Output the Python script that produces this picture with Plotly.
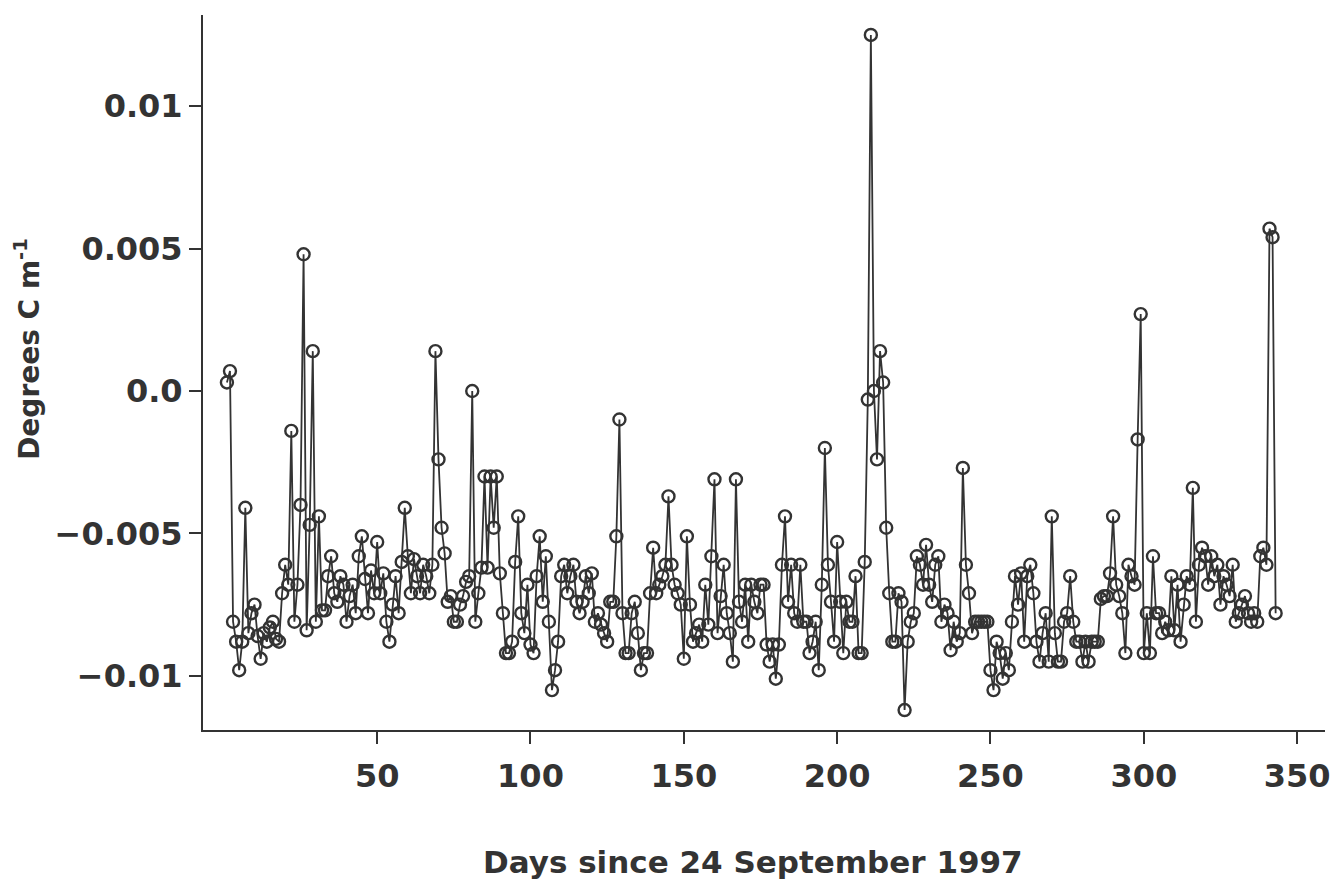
import plotly.graph_objects as go

# Daily temperature gradient series (degrees C per metre)
days = list(range(1, 344))
gradient = [
    0.0003, 0.0007, -0.0081, -0.0088, -0.0098, -0.0088, -0.0041, -0.0085, -0.0078, -0.0075,
    -0.0086, -0.0094, -0.0085, -0.0088, -0.0083, -0.0081, -0.0087, -0.0088, -0.0071, -0.0061,
    -0.0068, -0.0014, -0.0081, -0.0068, -0.0040, 0.0048, -0.0084, -0.0047, 0.0014, -0.0081,
    -0.0044, -0.0077, -0.0077, -0.0065, -0.0058, -0.0071, -0.0074, -0.0065, -0.0068, -0.0081,
    -0.0072, -0.0068, -0.0078, -0.0058, -0.0051, -0.0066, -0.0078, -0.0063, -0.0071, -0.0053,
    -0.0071, -0.0064, -0.0081, -0.0088, -0.0075, -0.0065, -0.0078, -0.0060, -0.0041, -0.0058,
    -0.0071, -0.0059, -0.0065, -0.0071, -0.0061, -0.0065, -0.0071, -0.0061, 0.0014, -0.0024,
    -0.0048, -0.0057, -0.0074, -0.0072, -0.0081, -0.0081, -0.0075, -0.0072, -0.0067, -0.0065,
    0.0000, -0.0081, -0.0071, -0.0062, -0.0030, -0.0062, -0.0030, -0.0048, -0.0030, -0.0064,
    -0.0078, -0.0092, -0.0092, -0.0088, -0.0060, -0.0044, -0.0078, -0.0085, -0.0068, -0.0089,
    -0.0092, -0.0065, -0.0051, -0.0074, -0.0058, -0.0081, -0.0105, -0.0098, -0.0088, -0.0065,
    -0.0061, -0.0071, -0.0065, -0.0061, -0.0074, -0.0078, -0.0074, -0.0065, -0.0071, -0.0064,
    -0.0081, -0.0078, -0.0082, -0.0085, -0.0088, -0.0074, -0.0074, -0.0051, -0.0010, -0.0078,
    -0.0092, -0.0092, -0.0078, -0.0074, -0.0085, -0.0098, -0.0092, -0.0092, -0.0071, -0.0055,
    -0.0071, -0.0068, -0.0065, -0.0061, -0.0037, -0.0061, -0.0068, -0.0071, -0.0075, -0.0094,
    -0.0051, -0.0075, -0.0088, -0.0085, -0.0082, -0.0088, -0.0068, -0.0082, -0.0058, -0.0031,
    -0.0085, -0.0072, -0.0061, -0.0078, -0.0085, -0.0095, -0.0031, -0.0074, -0.0081, -0.0068,
    -0.0088, -0.0068, -0.0074, -0.0078, -0.0068, -0.0068, -0.0089, -0.0095, -0.0089, -0.0101,
    -0.0089, -0.0061, -0.0044, -0.0074, -0.0061, -0.0078, -0.0081, -0.0061, -0.0081, -0.0081,
    -0.0092, -0.0088, -0.0081, -0.0098, -0.0068, -0.0020, -0.0061, -0.0074, -0.0088, -0.0053,
    -0.0074, -0.0092, -0.0074, -0.0081, -0.0081, -0.0065, -0.0092, -0.0092, -0.0060, -0.0003,
    0.0125, 0.0000, -0.0024, 0.0014, 0.0003, -0.0048, -0.0071, -0.0088, -0.0088, -0.0071,
    -0.0074, -0.0112, -0.0088, -0.0081, -0.0078, -0.0058, -0.0061, -0.0068, -0.0054, -0.0068,
    -0.0074, -0.0061, -0.0058, -0.0081, -0.0075, -0.0078, -0.0091, -0.0081, -0.0088, -0.0085,
    -0.0027, -0.0061, -0.0071, -0.0085, -0.0081, -0.0081, -0.0081, -0.0081, -0.0081, -0.0098,
    -0.0105, -0.0088, -0.0092, -0.0101, -0.0092, -0.0098, -0.0081, -0.0065, -0.0075, -0.0064,
    -0.0088, -0.0065, -0.0061, -0.0071, -0.0088, -0.0095, -0.0085, -0.0078, -0.0095, -0.0044,
    -0.0085, -0.0095, -0.0095, -0.0081, -0.0078, -0.0065, -0.0081, -0.0088, -0.0088, -0.0095,
    -0.0088, -0.0095, -0.0088, -0.0088, -0.0088, -0.0073, -0.0072, -0.0072, -0.0064, -0.0044,
    -0.0068, -0.0072, -0.0078, -0.0092, -0.0061, -0.0065, -0.0068, -0.0017, 0.0027, -0.0092,
    -0.0078, -0.0092, -0.0058, -0.0078, -0.0078, -0.0085, -0.0081, -0.0084, -0.0065, -0.0084,
    -0.0068, -0.0088, -0.0075, -0.0065, -0.0068, -0.0034, -0.0081, -0.0061, -0.0055, -0.0058,
    -0.0068, -0.0058, -0.0065, -0.0061, -0.0075, -0.0065, -0.0068, -0.0072, -0.0061, -0.0081,
    -0.0078, -0.0075, -0.0072, -0.0078, -0.0081, -0.0078, -0.0081, -0.0058, -0.0055, -0.0061,
    0.0057, 0.0054, -0.0078,
]

x_ticks = [50, 100, 150, 200, 250, 300, 350]
y_ticks = [0.01, 0.005, 0.0, -0.005, -0.01]
y_tick_text = ["0.01", "0.005", "0.0", "\u22120.005", "\u22120.01"]

ink = "#333333"
font_family = "DejaVu Sans, sans-serif"

fig = go.Figure()
fig.add_trace(go.Scatter(
    x=days,
    y=gradient,
    mode="lines+markers",
    line=dict(color=ink, width=1.8),
    marker=dict(symbol="circle-open", size=12, color=ink, line=dict(width=2.4, color=ink)),
    showlegend=False,
))

axis_common = dict(
    showgrid=False,
    zeroline=False,
    showline=True,
    linecolor=ink,
    linewidth=2,
    ticks="outside",
    ticklen=12,
    tickwidth=2,
    tickcolor=ink,
    tickfont=dict(family=font_family, size=32, color=ink, weight="bold"),
)

fig.update_xaxes(
    range=[-6.8, 359.1],
    tickvals=x_ticks,
    ticklabelstandoff=5,
    **axis_common,
)
fig.update_yaxes(
    range=[-0.0119, 0.0132],
    tickvals=y_ticks,
    ticktext=y_tick_text,
    ticklabelstandoff=0,
    **axis_common,
)

fig.add_annotation(
    text="Days since 24 September 1997",
    xref="paper", yref="paper", x=0.49, y=-0.185,
    xanchor="center", yanchor="middle", showarrow=False,
    font=dict(family=font_family, size=31, color=ink, weight="bold"),
)
fig.add_annotation(
    text="Degrees C m<sup>-1</sup>",
    xref="paper", yref="paper", x=-0.156, y=0.533,
    xanchor="center", yanchor="middle", textangle=-90, showarrow=False,
    font=dict(family=font_family, size=28, color=ink, weight="bold"),
)

fig.update_layout(
    width=1336,
    height=889,
    margin=dict(l=203, r=6, t=15, b=159),
    plot_bgcolor="white",
    paper_bgcolor="white",
)

fig.write_html("out.html")
